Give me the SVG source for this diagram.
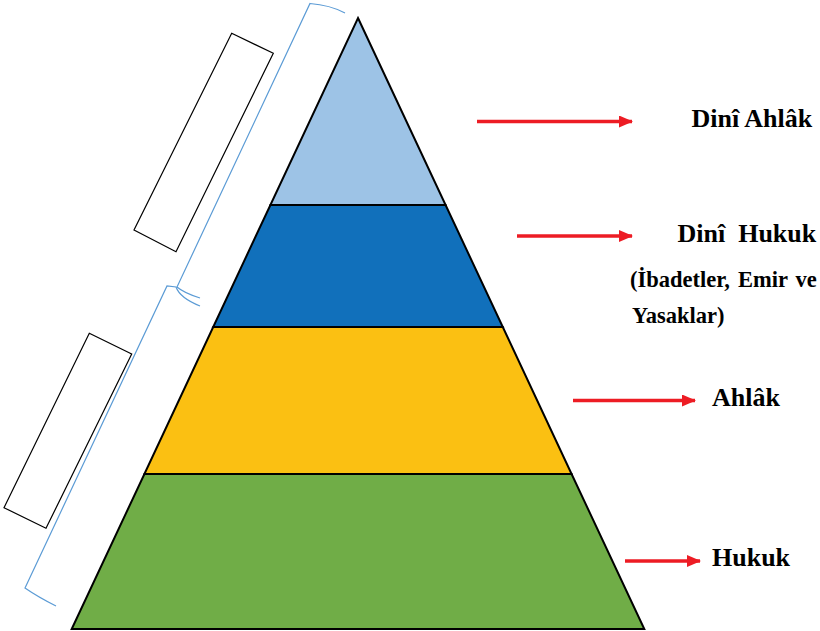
<svg xmlns="http://www.w3.org/2000/svg" width="820" height="631" viewBox="0 0 820 631">
<defs>
<marker id="ah" markerWidth="14" markerHeight="12" refX="13" refY="6" orient="auto" markerUnits="userSpaceOnUse">
<path d="M0,0 L14,6 L0,12 Z" fill="#ED1C24"/>
</marker>
<style>
.layer{stroke:#000;stroke-width:2;stroke-linejoin:miter}
.arrow{stroke:#ED1C24;stroke-width:3.5;fill:none;marker-end:url(#ah)}
.brace{stroke:#5B9BD5;stroke-width:1.2;fill:none}
.box{stroke:#000;stroke-width:1.2;fill:none}
.lbl{font-family:"Liberation Serif","Times New Roman",serif;font-weight:bold;fill:#000}
</style>
</defs>
<rect width="820" height="631" fill="#fff"/>
<g id="layer-dini-ahlak"><polygon class="layer" fill="#9DC3E6" points="358,18 445.6,205 270.4,205"/></g>
<g id="layer-dini-hukuk"><polygon class="layer" fill="#1170BB" points="270.4,205 445.6,205 502.8,327 213.2,327"/></g>
<g id="layer-ahlak"><polygon class="layer" fill="#FBC012" points="213.2,327 502.8,327 571.6,474 144.4,474"/></g>
<g id="layer-hukuk"><polygon class="layer" fill="#70AD47" points="144.4,474 571.6,474 644.3,629 71.7,629"/></g>
<g id="side-boxes">
<polygon class="box" points="231.7,33.3 273.3,53.3 176,251.7 134,230"/>
<polygon class="box" points="89.3,333.3 131.7,354 46,528.3 4,507.7"/>
</g>
<g id="braces">
<path class="brace" d="M345,13 Q330,5 310,3.5 L177,287 Q184,293 200,298"/>
<path class="brace" d="M200,306 Q180,298 176,287 L167,286 L25,588 Q38,597 56,606"/>
</g>
<g id="connectors">
<line class="arrow" x1="477" y1="121.5" x2="632" y2="121.5"/>
<line class="arrow" x1="517" y1="236" x2="632" y2="236"/>
<line class="arrow" x1="573" y1="400.5" x2="695" y2="400.5"/>
<line class="arrow" x1="625" y1="561" x2="700" y2="561"/>
</g>
<g id="labels">
<text class="lbl" x="691.5" y="127" font-size="26">Dinî Ahlâk</text>
<text class="lbl" x="677.5" y="241.5" font-size="26" xml:space="preserve">Dinî  Hukuk</text>
<text class="lbl" x="630" y="287" font-size="22.5" word-spacing="2.5">(İbadetler, Emir ve</text>
<text class="lbl" x="632" y="323" font-size="22.5">Yasaklar)</text>
<text class="lbl" x="712" y="406" font-size="26">Ahlâk</text>
<text class="lbl" x="712" y="566" font-size="26">Hukuk</text>
</g>
</svg>
